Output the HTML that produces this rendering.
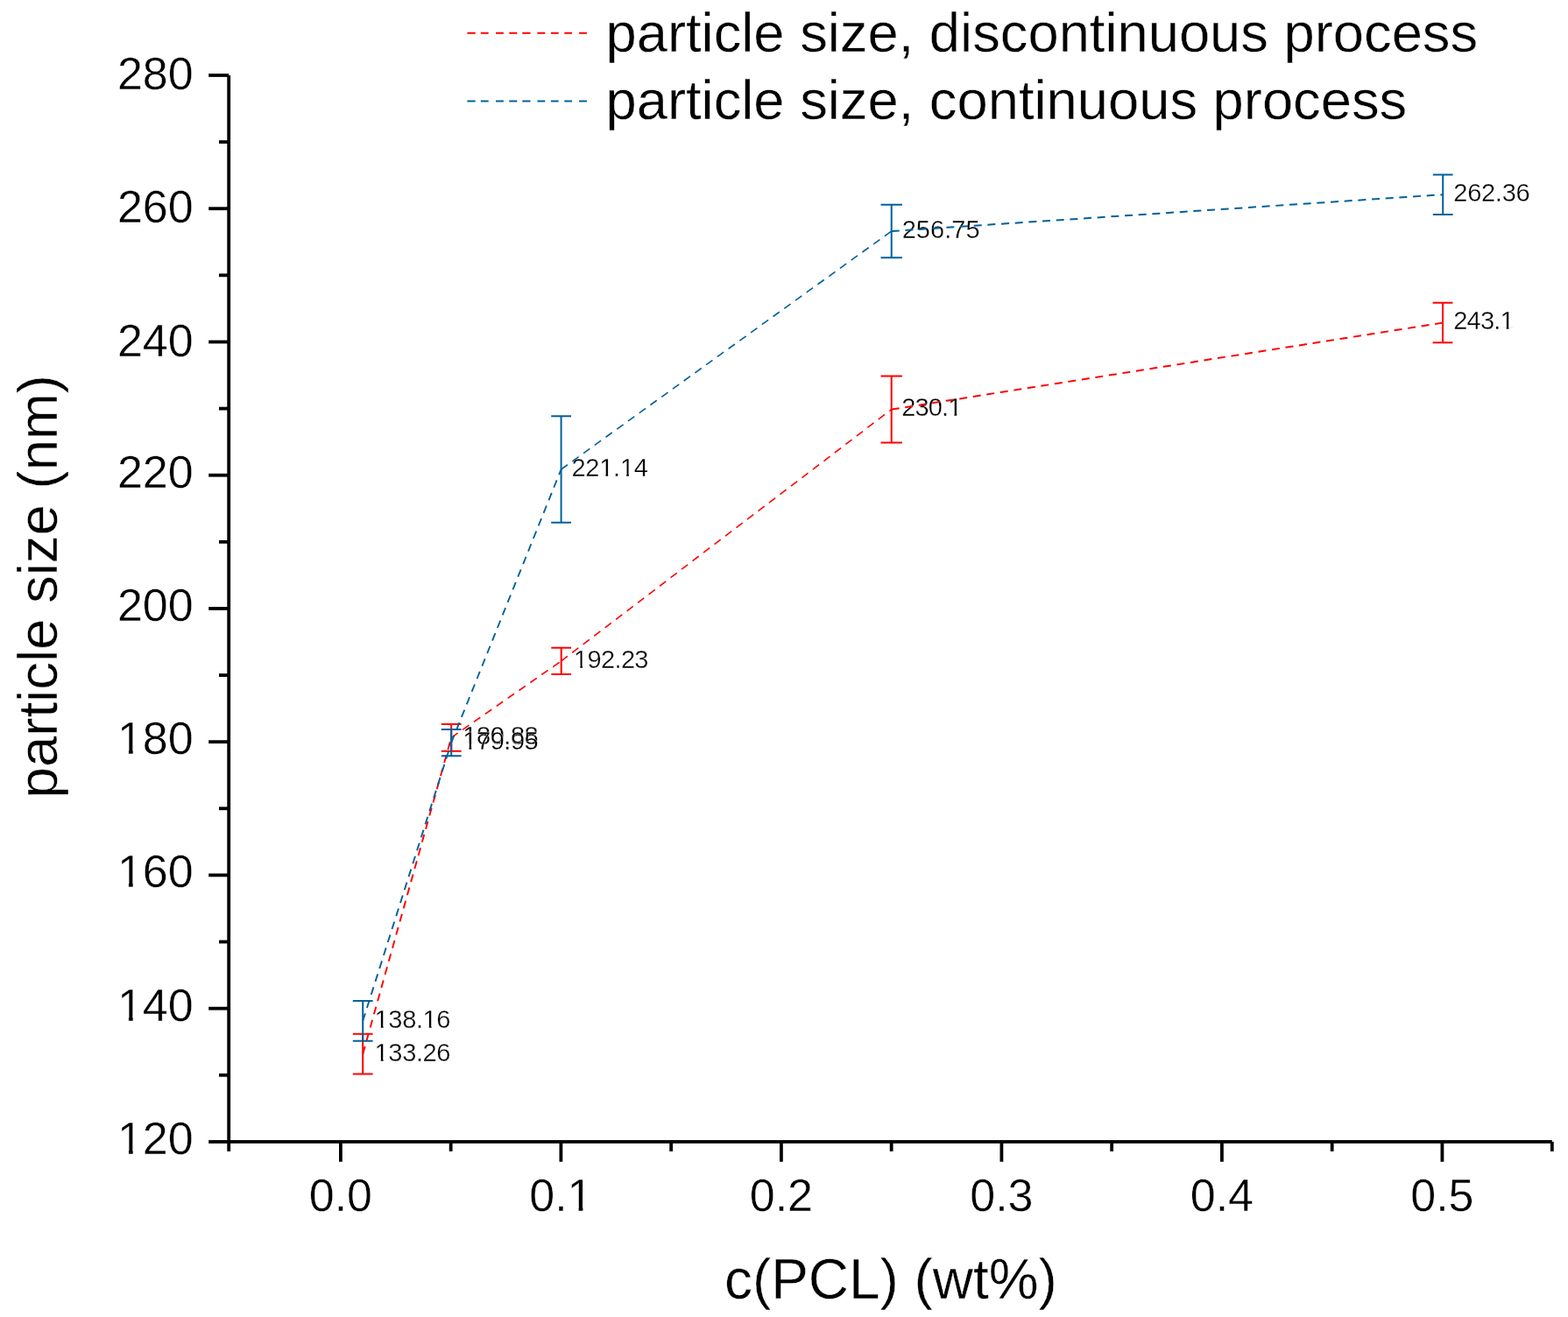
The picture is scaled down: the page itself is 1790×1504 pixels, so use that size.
<!DOCTYPE html>
<html><head><meta charset="utf-8"><title>particle size chart</title>
<style>
html,body{margin:0;padding:0;background:#fff;}
body{width:1790px;height:1504px;overflow:hidden;}
svg{display:block;}
text{font-family:"Liberation Sans",Arial,sans-serif;fill:#000;stroke:#fff;stroke-width:0.4px;}
.sm text{stroke-width:0.3px;}
</style></head><body>
<svg width="1790" height="1504" viewBox="0 0 1790 1504">
<rect width="1790" height="1504" fill="#fff"/>
<g stroke="#000" stroke-width="3.8" fill="none"><line x1="261.2" y1="86" x2="261.2" y2="1303.9"/><line x1="261.2" y1="1303.9" x2="1771.8" y2="1303.9"/><line x1="238.2" y1="85.98" x2="261.2" y2="85.98"/><line x1="238.2" y1="238.22" x2="261.2" y2="238.22"/><line x1="238.2" y1="390.46" x2="261.2" y2="390.46"/><line x1="238.2" y1="542.70" x2="261.2" y2="542.70"/><line x1="238.2" y1="694.94" x2="261.2" y2="694.94"/><line x1="238.2" y1="847.18" x2="261.2" y2="847.18"/><line x1="238.2" y1="999.42" x2="261.2" y2="999.42"/><line x1="238.2" y1="1151.66" x2="261.2" y2="1151.66"/><line x1="238.2" y1="1303.90" x2="261.2" y2="1303.90"/><line x1="250" y1="162.10" x2="261.2" y2="162.10"/><line x1="250" y1="314.34" x2="261.2" y2="314.34"/><line x1="250" y1="466.58" x2="261.2" y2="466.58"/><line x1="250" y1="618.82" x2="261.2" y2="618.82"/><line x1="250" y1="771.06" x2="261.2" y2="771.06"/><line x1="250" y1="923.30" x2="261.2" y2="923.30"/><line x1="250" y1="1075.54" x2="261.2" y2="1075.54"/><line x1="250" y1="1227.78" x2="261.2" y2="1227.78"/><line x1="388.90" y1="1303.9" x2="388.90" y2="1326.7"/><line x1="640.40" y1="1303.9" x2="640.40" y2="1326.7"/><line x1="891.90" y1="1303.9" x2="891.90" y2="1326.7"/><line x1="1143.40" y1="1303.9" x2="1143.40" y2="1326.7"/><line x1="1394.90" y1="1303.9" x2="1394.90" y2="1326.7"/><line x1="1646.40" y1="1303.9" x2="1646.40" y2="1326.7"/><line x1="261.20" y1="1303.9" x2="261.20" y2="1314.8"/><line x1="514.65" y1="1303.9" x2="514.65" y2="1314.8"/><line x1="766.15" y1="1303.9" x2="766.15" y2="1314.8"/><line x1="1017.65" y1="1303.9" x2="1017.65" y2="1314.8"/><line x1="1269.15" y1="1303.9" x2="1269.15" y2="1314.8"/><line x1="1520.65" y1="1303.9" x2="1520.65" y2="1314.8"/><line x1="1771.80" y1="1303.9" x2="1771.80" y2="1314.8"/></g>
<g font-size="52"><text x="220.7" y="102.08" text-anchor="end">280</text><text x="220.7" y="254.32" text-anchor="end">260</text><text x="220.7" y="406.56" text-anchor="end">240</text><text x="220.7" y="556.70" text-anchor="end">220</text><text x="220.7" y="708.94" text-anchor="end">200</text><text x="220.7" y="861.18" text-anchor="end">180</text><text x="220.7" y="1013.42" text-anchor="end">160</text><text x="220.7" y="1165.66" text-anchor="end">140</text><text x="220.7" y="1317.90" text-anchor="end">120</text><text x="388.90" y="1382.6" text-anchor="middle">0.0</text><text x="640.40" y="1382.6" text-anchor="middle">0.1</text><text x="891.90" y="1382.6" text-anchor="middle">0.2</text><text x="1143.40" y="1382.6" text-anchor="middle">0.3</text><text x="1394.90" y="1382.6" text-anchor="middle">0.4</text><text x="1646.40" y="1382.6" text-anchor="middle">0.5</text></g>
<text x="1016.9" y="1482.5" text-anchor="middle" font-size="63.9">c(PCL) (wt%)</text>
<text transform="translate(65.4,911.4) rotate(-90)" x="0" y="0" font-size="63.5">particle size (nm)</text>
<path d="M533.4,37.75H542.7 M548.8,37.75H557.7 M566.0,37.75H574.9 M581.3,37.75H590.3 M596.3,37.75H605.5 M613.4,37.75H622.3 M628.9,37.75H637.7 M644.3,37.75H653.1 M661.1,37.75H669.9" stroke="#ff0000" stroke-width="2.1" fill="none"/>
<path d="M533.4,115.5H542.7 M548.8,115.5H557.7 M566.0,115.5H574.9 M581.3,115.5H590.3 M596.3,115.5H605.5 M613.4,115.5H622.3 M628.9,115.5H637.7 M644.3,115.5H653.1 M661.1,115.5H669.9" stroke="#02609a" stroke-width="2.1" fill="none"/>
<text x="691.5" y="59.3" font-size="63.3">particle size, discontinuous process</text>
<text x="691.5" y="135.5" font-size="63.3">particle size, continuous process</text>
<g class="sm" font-size="29"><text x="427.6" y="1211.6" letter-spacing="-0.36">133.26</text><text x="427.6" y="1173.8" letter-spacing="-0.36">138.16</text><text x="528.3" y="850.3" letter-spacing="-0.45">180.88</text><text x="528.3" y="856.0" letter-spacing="-0.45">179.95</text><text x="655.1" y="762.6" letter-spacing="-0.66">192.23</text><text x="652.4" y="544.1" letter-spacing="-0.22">221.14</text><text x="1029.3" y="475.2" letter-spacing="-0.87">230.1</text><text x="1029.7" y="271.8" letter-spacing="0.04">256.75</text><text x="1659.3" y="376.4" letter-spacing="-0.82">243.1</text><text x="1659.3" y="230.1" letter-spacing="-0.27">262.36</text></g>
<g fill="#fff"><rect x="137.00" y="856.50" width="9.92" height="5.48"/><rect x="151.71" y="856.50" width="9.51" height="5.48"/><rect x="137.00" y="1008.74" width="9.92" height="5.48"/><rect x="151.71" y="1008.74" width="9.51" height="5.48"/><rect x="137.00" y="1160.98" width="9.92" height="5.48"/><rect x="151.71" y="1160.98" width="9.51" height="5.48"/><rect x="137.00" y="1313.22" width="9.92" height="5.48"/><rect x="151.71" y="1313.22" width="9.51" height="5.48"/><rect x="650.68" y="1377.92" width="9.92" height="5.48"/><rect x="665.40" y="1377.92" width="9.51" height="5.48"/><rect x="428.91" y="1208.63" width="5.88" height="3.77"/><rect x="437.56" y="1208.63" width="5.66" height="3.77"/><rect x="428.91" y="1170.83" width="5.88" height="3.77"/><rect x="437.56" y="1170.83" width="5.66" height="3.77"/><rect x="483.91" y="1170.83" width="5.88" height="3.77"/><rect x="492.56" y="1170.83" width="5.66" height="3.77"/><rect x="529.61" y="847.33" width="5.88" height="3.77"/><rect x="538.26" y="847.33" width="5.66" height="3.77"/><rect x="529.61" y="853.03" width="5.88" height="3.77"/><rect x="538.26" y="853.03" width="5.66" height="3.77"/><rect x="656.41" y="759.63" width="5.88" height="3.77"/><rect x="665.06" y="759.63" width="5.66" height="3.77"/><rect x="685.53" y="541.13" width="5.88" height="3.77"/><rect x="694.17" y="541.13" width="5.66" height="3.77"/><rect x="709.27" y="541.13" width="5.88" height="3.77"/><rect x="717.92" y="541.13" width="5.66" height="3.77"/><rect x="1083.57" y="472.23" width="5.88" height="3.77"/><rect x="1092.22" y="472.23" width="5.66" height="3.77"/><rect x="1713.77" y="373.43" width="5.88" height="3.77"/><rect x="1722.42" y="373.43" width="5.66" height="3.77"/></g>
<path d="M414.2,1203.7 L515.2,842.3" fill="none" stroke="#ff0000" stroke-width="1.93" stroke-dasharray="9 6.7"/><path d="M515.2,842.3 L640.7,754.9" fill="none" stroke="#ff0000" stroke-width="1.64" stroke-dasharray="9 6.7"/><path d="M640.7,754.9 L1017.7,467.6" fill="none" stroke="#ff0000" stroke-width="1.59" stroke-dasharray="9 6.7"/><path d="M1017.7,467.6 L1647.0,368.6" fill="none" stroke="#ff0000" stroke-width="1.98" stroke-dasharray="9 6.7"/><path d="M414.2,1180.80 V1226.60 M402.80,1180.80 H425.60 M402.80,1226.60 H425.60 M515.2,826.90 V857.70 M503.80,826.90 H526.60 M503.80,857.70 H526.60 M640.7,739.80 V770.00 M629.30,739.80 H652.10 M629.30,770.00 H652.10 M1017.7,429.60 V505.60 M1005.50,429.60 H1029.90 M1005.50,505.60 H1029.90 M1647.0,345.85 V391.35 M1635.60,345.85 H1658.40 M1635.60,391.35 H1658.40" fill="none" stroke="#ff0000" stroke-width="2"/>
<path d="M414.2,1165.8 L515.2,848.1" fill="none" stroke="#02609a" stroke-width="1.91" stroke-dasharray="9 6.7"/><path d="M515.2,848.1 L640.6,536.0" fill="none" stroke="#02609a" stroke-width="1.86" stroke-dasharray="9 6.7"/><path d="M640.6,536.0 L1017.7,264.0" fill="none" stroke="#02609a" stroke-width="1.62" stroke-dasharray="9 6.7"/><path d="M1017.7,264.0 L1647.2,222.2" fill="none" stroke="#02609a" stroke-width="2.00" stroke-dasharray="9 6.7"/><path d="M414.2,1142.90 V1188.70 M402.80,1142.90 H425.60 M402.80,1188.70 H425.60 M515.2,832.90 V863.30 M503.80,832.90 H526.60 M503.80,863.30 H526.60 M640.6,475.15 V596.85 M629.20,475.15 H652.00 M629.20,596.85 H652.00 M1017.7,233.70 V294.30 M1005.50,233.70 H1029.90 M1005.50,294.30 H1029.90 M1647.2,199.40 V245.00 M1635.80,199.40 H1658.60 M1635.80,245.00 H1658.60" fill="none" stroke="#02609a" stroke-width="2"/>
</svg>
</body></html>
